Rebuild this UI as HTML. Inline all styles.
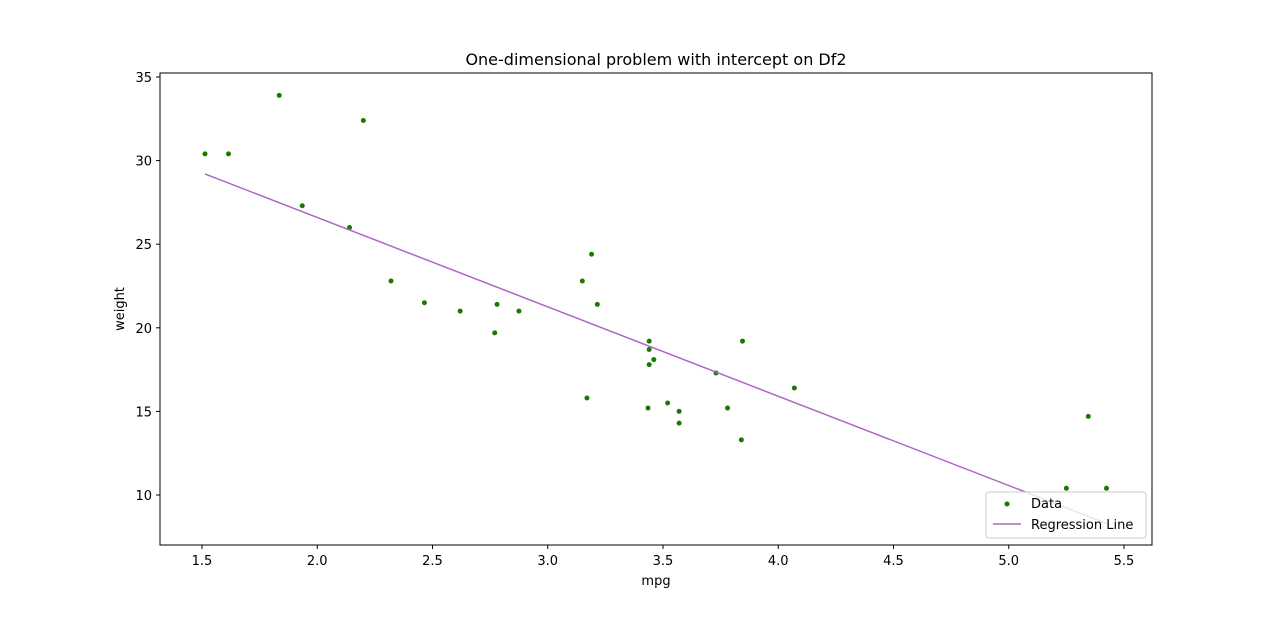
<!DOCTYPE html>
<html><head><meta charset="utf-8"><style>
body{margin:0;background:#fff;}
text{font-family:"DejaVu Sans","Liberation Sans",sans-serif;}
</style></head><body>
<svg id="chart" width="1280" height="612" xmlns="http://www.w3.org/2000/svg">
<rect width="1280" height="612" fill="#fff"/>
<text x="656" y="65" font-size="16" text-anchor="middle">One-dimensional problem with intercept on Df2</text>
<g id="plot"></g>
<rect x="160" y="73" width="992" height="472" fill="none" stroke="#000" stroke-width="1"/>
<text x="656" y="585" font-size="13" text-anchor="middle">mpg</text>
<text x="124" y="309" font-size="13" text-anchor="middle" transform="rotate(-90 124 309)">weight</text>
<g>
<rect x="986" y="492" width="160" height="46" rx="3" fill="#fff" fill-opacity="0.8" stroke="#ccc"/>
<circle cx="1007" cy="504" r="2.5" fill="#1a7a00"/>
<text x="1031" y="508" font-size="13">Data</text>
<line x1="993" y1="524" x2="1021" y2="524" stroke="#b266c4" stroke-width="1.5"/>
<text x="1031" y="529" font-size="13">Regression Line</text>
</g>
</svg>
<script>
const xVals=[2.620,2.875,2.320,3.215,3.440,3.460,3.570,3.190,3.150,3.440,3.440,4.070,3.730,3.780,5.250,5.424,5.345,2.200,1.615,1.835,2.465,3.520,3.435,3.840,3.845,1.935,2.140,1.513,3.170,2.770,3.570,2.780];
const yVals=[21.0,21.0,22.8,21.4,18.7,18.1,14.3,24.4,22.8,19.2,17.8,16.4,17.3,15.2,10.4,10.4,14.7,32.4,30.4,33.9,21.5,15.5,15.2,13.3,19.2,27.3,26.0,30.4,15.8,19.7,15.0,21.4];
const xTicks=[1.5,2.0,2.5,3.0,3.5,4.0,4.5,5.0,5.5];
const yTicks=[10,15,20,25,30,35];
const intercept=37.285, slope=-5.344;
const sx=v=>202+(v-1.5)*230.5;
const sy=v=>495-(v-10)*16.72;
const NS="http://www.w3.org/2000/svg";
const g=document.getElementById('plot');
function mk(t,a){const e=document.createElementNS(NS,t);for(const k in a)e.setAttribute(k,a[k]);g.appendChild(e);return e;}
xTicks.forEach(t=>{
 const l=mk('line',{x1:sx(t),x2:sx(t),y1:545,y2:549,stroke:'#000'});
 
 
 const tx=mk('text',{x:sx(t),y:565,'font-size':13,'text-anchor':'middle'});tx.textContent=t.toFixed(1);
 
 
});
yTicks.forEach(t=>{
 const l=mk('line',{x1:156,x2:160,y1:sy(t),y2:sy(t),stroke:'#000'});
 
 
 const tx=mk('text',{x:152,y:sy(t)+5,'font-size':13,'text-anchor':'end'});tx.textContent=t;
 
 
});
xVals.forEach((x,i)=>{
 const c=mk('circle',{cx:sx(x),cy:sy(yVals[i]),r:2.5,fill:'#1a7a00'});
 
 
});
const xmin=Math.min(...xVals), xmax=Math.max(...xVals);
const ln=mk('line',{x1:sx(xmin),y1:sy(intercept+slope*xmin),x2:sx(xmax),y2:sy(intercept+slope*xmax),stroke:'#b266c4','stroke-width':1.5});


</script>
</body></html>
